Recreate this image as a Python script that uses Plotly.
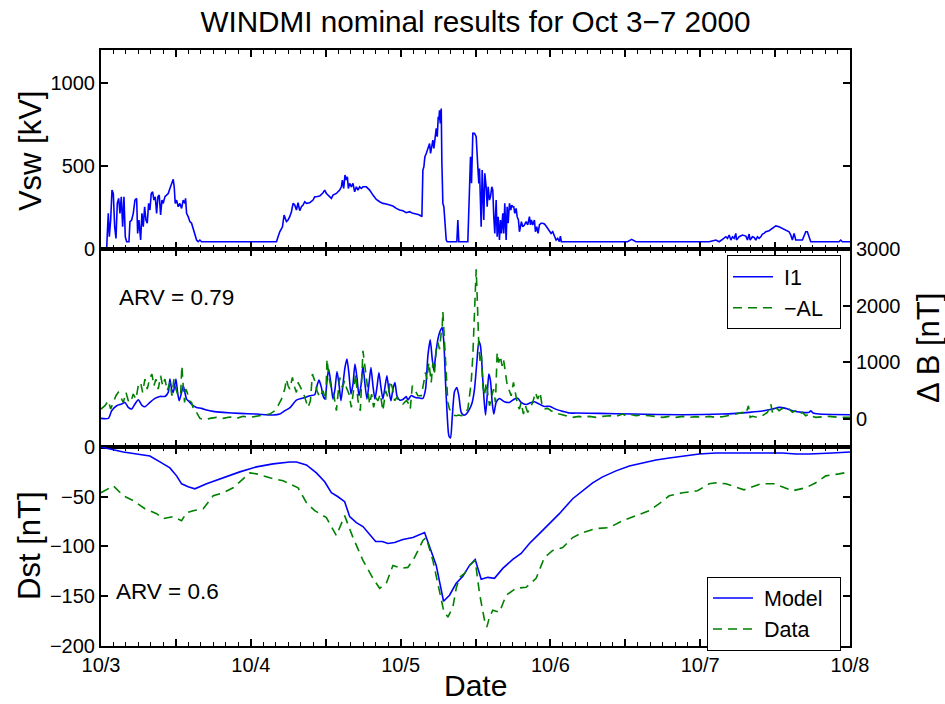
import plotly.graph_objects as go

# ---------------- data (time in hours since 10/3 00:00) ----------------
VSW = [(0,0),(0.91,0),(1.01,94),(1.17,215),(1.33,74),(1.55,175),(1.76,355),(1.97,335),(2.19,134),(2.40,64),(2.61,275),(2.83,305),(3.04,215),(3.25,315),(3.47,134),(3.68,315),(3.89,74),(4.11,44),(4.48,44),(4.64,165),(4.91,175),(5.17,215),(5.44,295),(5.71,305),(5.87,94),(6.08,175),(6.35,54),(6.56,215),(6.77,134),(6.99,255),(7.20,175),(7.41,155),(7.63,275),(7.84,235),(8.05,335),(8.27,345),(8.48,295),(8.69,315),(8.91,215),(9.12,315),(9.33,325),(9.55,205),(9.76,295),(9.97,275),(10.24,315),(10.51,325),(10.77,335),(11.04,365),(11.31,396),(11.57,420),(11.73,375),(11.89,275),(12.11,295),(12.37,255),(12.64,275),(12.91,245),(13.17,295),(13.44,275),(13.55,305),(13.71,215),(13.97,195),(14.24,165),(14.51,155),(14.77,124),(15.04,84),(15.31,54),(15.57,44),(15.84,54),(16.11,44),
       (28.11,44),(28.37,74),(28.64,104),(29.07,134),(29.33,205),(29.71,165),(29.97,175),(30.24,195),(30.51,225),(30.77,275),(31.04,265),(31.31,235),(31.57,279),(31.84,231),(32.11,255),(32.37,265),(32.64,285),(32.91,275),(33.44,279),(33.97,295),(34.24,315),(34.51,315),(35.04,319),(35.57,339),(35.84,355),(36.11,335),(36.37,325),(36.64,315),(36.91,305),(37.17,325),(37.71,335),(37.97,345),(38.24,355),(38.51,375),(38.67,416),(38.88,365),(39.09,446),(39.31,416),(39.47,436),(39.63,365),(39.84,396),(40.11,375),(40.37,396),(40.64,345),(40.91,375),(41.17,355),(41.44,375),(41.71,365),(41.97,375),(42.51,375),(43.04,355),(43.57,325),(44.11,299),(44.64,285),(45.17,275),(45.71,271),(46.24,265),(46.77,259),(47.31,245),(47.84,235),(48.37,231),(48.91,219),(49.44,225),(49.97,215),(50.51,211),(51.04,205),(51.41,195),
       (51.57,476),(51.73,496),(51.89,556),(52.11,576),(52.37,606),(52.64,636),(52.80,576),(53.01,616),(53.17,657),(53.33,606),(53.55,697),(53.71,727),(53.87,677),(54.03,797),(54.13,777),(54.24,837),(54.35,757),(54.51,847),(54.61,526),(54.77,275),(54.93,255),(55.09,134),(55.31,54),(55.47,44),(57.01,44),(57.17,175),(57.33,44),(58.77,44),
       (59.04,416),(59.20,556),(59.36,396),(59.57,697),(59.84,697),(60.11,677),(60.37,496),(60.53,396),(60.64,486),(60.91,134),(61.07,476),(61.17,355),(61.33,175),(61.49,456),(61.71,375),(61.87,255),(62.03,375),(62.24,295),(62.40,315),(62.61,375),(62.77,355),(62.93,195),(63.09,94),(63.31,295),(63.47,74),(63.63,195),(63.84,54),(64.00,175),(64.16,94),(64.37,215),(64.53,94),(64.69,275),(64.91,54),(65.07,255),(65.23,155),(65.44,275),(65.65,235),(65.81,265),(65.97,255),(66.13,255),(66.29,215),(66.51,245),(66.67,195),(66.88,175),(67.04,104),(67.20,134),(67.36,165),(67.57,134),(67.84,145),(68.11,165),(68.37,145),(68.64,195),(68.80,145),(68.96,175),(69.17,145),(69.44,175),(69.60,104),(69.81,134),(70.03,94),(70.24,145),(70.51,155),(70.77,155),(71.04,151),(71.31,139),(71.57,124),(71.84,110),(72.11,94),(72.37,104),(72.64,84),(72.91,54),(73.17,64),(73.44,44),(73.60,78),(73.76,44),
       (84.37,44),(85.01,58),(85.71,44),(97.44,44),(98.51,54),(99.04,44),(99.57,58),(100.11,74),(100.37,64),(100.64,84),(100.91,54),(101.17,74),(101.44,64),(101.71,94),(101.81,54),(102.24,74),(102.77,84),(103.31,78),(103.57,54),(103.84,90),(104.00,54),(104.37,74),(104.64,70),(104.91,54),(105.17,74),(105.44,64),(105.71,74),(105.97,90),(106.24,94),(106.51,104),(107.04,110),(107.57,124),(108.11,139),(108.64,134),(109.17,124),(109.71,110),(110.24,104),(110.51,84),(110.77,54),(111.04,94),(111.31,54),(112.37,54),(112.64,74),(112.91,104),(113.17,104),(113.44,74),(113.71,44),(118.24,44),(118.51,54),(118.77,44),(120,44)]

I1 = [(0,6),(1.17,6),(1.71,141),(2.51,230),(3.31,259),(3.84,288),(4.37,200),(4.91,171),(5.44,259),(5.97,335),(6.61,230),(7.04,212),(7.84,288),(8.64,359),(9.44,394),(10.24,394),(10.77,465),(11.04,700),(11.31,524),(11.57,465),(12.00,700),(12.27,465),(12.53,318),(12.91,465),(13.17,582),(13.44,465),(13.71,347),(13.97,318),(14.24,288),(14.77,230),(15.31,200),(16.11,183),(16.91,153),(17.97,129),(19.57,112),(22.24,94),(24.91,82),(27.57,65),(28.64,82),(29.44,141),(30.24,190),(31.31,330),(32.37,365),(33.44,406),(34.24,424),(34.61,583),(34.93,683),(35.31,553),(35.57,406),(35.89,347),(36.21,671),(36.48,877),(36.85,612),(37.17,347),(37.49,524),(37.81,835),(38.13,612),(38.45,318),(38.77,612),(39.09,906),(39.41,1053),(39.73,788),(40.05,436),(40.37,612),(40.69,965),(41.01,729),(41.33,406),(41.65,583),(41.97,935),(42.29,612),(42.61,347),(42.93,612),(43.25,906),(43.57,583),(43.89,347),(44.21,553),(44.53,817),(44.85,553),(45.17,347),(45.49,553),(45.81,759),(46.13,494),(46.45,318),(46.77,524),(47.09,641),(47.41,406),(47.84,330),(48.37,340),(48.91,390),(49.17,330),(49.71,410),(50.24,380),(51.04,365),(51.57,360),(52.0,523),(52.37,1111),(52.75,1393),(53.07,1052),(53.33,846),(53.60,1111),(53.97,1405),(54.35,1552),(54.67,1611),(54.93,1346),(55.20,641),(55.47,53),(55.73,-300),(56.0,-340),(56.27,24),(56.64,480),(57.01,552),(57.33,405),(57.71,111),(58.08,64),(58.51,82),(59.04,170),(59.47,288),(59.84,523),(60.21,993),(60.53,1370),(60.80,1287),(61.07,876),(61.33,405),(61.60,64),(61.87,405),(62.13,788),(62.40,670),(62.67,288),(62.93,82),(63.31,288),(63.84,358),(64.64,300),(65.44,288),(66.24,347),(66.77,360),(67.31,288),(68.11,250),(68.91,288),(69.44,300),(70.24,258),(71.04,217),(71.84,220),(72.91,165),(73.97,130),(75.04,100),(76.11,100),(79.84,94),(85.17,82),(93.17,70),(99.57,82),(101.71,94),(103.84,112),(105.97,135),(107.57,171),(108.64,200),(109.71,183),(110.77,141),(112.37,112),(113.44,112),(113.71,141),(114.08,100),(115.04,82),(120,70)]

MINUS_AL = [(0,171),(0.64,230),(1.17,318),(1.55,171),(1.97,288),(2.40,406),(2.77,465),(3.15,377),(3.57,288),(4.0,465),(4.37,318),(4.75,288),(5.17,435),(5.60,347),(5.97,582),(6.35,641),(6.67,465),(7.04,700),(7.41,524),(7.84,729),(8.16,788),(8.48,582),(8.80,700),(9.17,524),(9.55,759),(9.87,582),(10.24,700),(10.61,494),(11.04,641),(11.36,406),(11.68,700),(12.0,524),(12.37,406),(12.75,406),(12.96,935),(13.17,582),(13.39,288),(13.60,524),(13.81,465),(14.13,318),(14.51,288),(14.88,141),(15.31,112),(15.84,6),(16.64,-17),(17.44,6),(18.51,24),(19.57,6),(20.64,30),(21.71,6),(22.77,42),(23.84,24),(24.91,42),(25.97,53),(27.04,82),(27.84,141),(28.37,230),(28.91,347),(29.44,524),(29.71,700),(29.97,582),(30.24,524),(30.51,641),(30.67,729),(31.04,553),(31.31,465),(31.57,641),(32.11,524),(32.48,436),(33.17,200),(33.55,318),(33.87,788),(34.24,671),(34.61,494),(35.04,377),(35.57,494),(36.0,318),(36.21,1053),(36.53,729),(36.91,524),(37.28,436),(37.71,141),(37.97,436),(38.24,729),(38.67,553),(39.04,671),(39.31,553),(39.73,436),(40.11,200),(40.48,553),(40.80,788),(41.17,318),(41.55,141),(41.97,1200),(42.29,906),(42.61,671),(43.04,259),(43.36,436),(43.68,200),(44.0,377),(44.37,318),(44.75,436),(45.17,141),(45.60,494),(45.97,377),(46.35,671),(46.67,553),(47.04,318),(47.41,377),(47.84,300),(48.37,259),(48.91,318),(49.17,288),(49.55,170),(49.87,582),(50.24,523),(50.77,405),(51.31,405),(51.68,641),(52.0,817),(52.21,699),(52.53,993),(52.91,641),(53.17,993),(53.44,817),(53.71,1229),(53.97,1346),(54.24,1229),(54.51,1523),(54.67,1640),(54.77,1890),(54.93,1523),(55.15,993),(55.36,641),(55.57,288),(55.84,170),(56.16,111),(56.48,64),(56.91,53),(57.33,64),(57.71,53),(58.08,64),(58.40,111),(58.77,170),(59.04,405),(59.31,641),(59.57,1111),(59.79,1699),(59.95,2169),(60.11,2640),(60.21,2346),(60.37,1699),(60.53,1287),(60.75,993),(60.96,1111),(61.17,582),(61.44,405),(61.71,641),(61.97,405),(62.24,229),(62.51,347),(62.88,523),(63.20,288),(63.47,1170),(63.73,993),(63.95,1111),(64.27,935),(64.48,1052),(64.80,817),(65.01,641),(65.33,523),(65.71,405),(66.08,641),(66.40,464),(66.77,229),(67.04,170),(67.31,288),(67.68,82),(68.0,229),(68.37,111),(68.75,199),(69.17,288),(69.60,464),(69.97,347),(70.35,464),(70.67,229),(71.04,170),(71.57,182),(72.11,141),(72.64,111),(73.44,82),(74.51,53),(75.57,23),(76.64,41),(77.17,24),(78.24,42),(79.31,24),(80.37,42),(81.44,53),(82.51,42),(83.57,82),(84.11,53),(84.64,82),(85.71,53),(86.77,65),(87.84,53),(88.91,42),(89.97,24),(91.04,42),(92.11,24),(93.17,42),(94.24,24),(95.31,36),(96.37,24),(97.44,42),(98.51,24),(99.57,36),(100.64,53),(101.71,82),(102.77,112),(103.31,82),(103.73,229),(104.0,24),(104.37,42),(105.17,24),(105.97,53),(106.77,112),(107.31,259),(107.57,112),(108.11,200),(108.64,141),(109.17,183),(109.71,159),(110.24,171),(110.77,112),(111.31,141),(111.84,82),(112.37,112),(112.91,53),(113.44,82),(113.97,42),(114.51,24),(116.64,42),(118.24,24),(120,24)]

DST_MODEL = [(0,0),(1.44,-2),(3.57,-5),(5.71,-7),(7.84,-9),(9.44,-15),(11.04,-21),(12.11,-29),(12.91,-37),(13.97,-40),(15.04,-42),(16.91,-37),(19.57,-31),(22.24,-25),(24.91,-20),(27.57,-17),(30.24,-15),(31.31,-15),(32.91,-18),(34.51,-26),(35.84,-35),(36.91,-46),(37.97,-50),(39.04,-55),(39.84,-70),(40.91,-76),(41.97,-80),(43.04,-88),(44.00,-95),(45.07,-95),(45.97,-97),(47.04,-96),(48.37,-93),(49.97,-91),(51.84,-86),(53.71,-119),(54.88,-155),(55.84,-149),(56.91,-137),(57.97,-130),(59.04,-119),(59.95,-113),(60.91,-133),(61.97,-131),(63.04,-132),(64.37,-122),(65.97,-113),(67.31,-107),(68.64,-97),(70.24,-87),(71.84,-77),(73.44,-67),(75.57,-52),(77.17,-44),(78.77,-36),(80.37,-30),(82.51,-24),(84.64,-19),(86.77,-16),(88.91,-13),(91.04,-11),(93.17,-9),(95.84,-7),(98.51,-6),(101.17,-6),(103.84,-6),(106.51,-6),(109.17,-6),(111.31,-7),(113.44,-7),(117.17,-6),(120,-5)]

DST_DATA = [(0,-46),(1.97,-39),(3.57,-49),(5.17,-54),(7.04,-62),(8.91,-67),(9.97,-72),(11.57,-70),(12.91,-74),(13.71,-66),(14.77,-64),(16.37,-62),(17.97,-49),(19.57,-46),(21.17,-41),(22.77,-32),(23.84,-26),(24.91,-27),(27.04,-31),(29.17,-34),(31.57,-41),(32.91,-56),(34.24,-64),(36.11,-71),(37.71,-89),(39.04,-69),(40.37,-91),(41.97,-114),(43.57,-132),(44.64,-142),(45.71,-137),(46.77,-119),(48.11,-122),(49.17,-121),(50.24,-111),(51.57,-94),(52.11,-91),(53.17,-114),(54.13,-144),(54.88,-164),(55.57,-171),(56.37,-161),(56.91,-142),(57.44,-131),(58.24,-127),(59.04,-119),(59.95,-114),(60.64,-147),(61.44,-174),(61.81,-181),(62.24,-171),(62.77,-164),(63.84,-166),(64.91,-149),(66.51,-142),(68.11,-141),(69.71,-132),(71.04,-111),(72.37,-104),(73.97,-101),(75.57,-91),(77.17,-86),(79.31,-82),(81.44,-81),(83.57,-74),(85.71,-69),(87.84,-64),(89.44,-57),(91.04,-49),(93.17,-46),(95.57,-44),(97.44,-37),(98.51,-36),(100.11,-37),(103.04,-43),(105.71,-37),(107.84,-37),(110.77,-44),(112.91,-41),(114.51,-36),(116.11,-29),(118.24,-27),(120,-25)]

DAY_LABELS = ["10/3", "10/4", "10/5", "10/6", "10/7", "10/8"]
ARV_AL = "ARV = 0.79"
ARV_DST = "ARV = 0.6"

# ---------------- figure ----------------
FONT = "Liberation Sans, Arial, Helvetica, sans-serif"
BLUE = "#0000FF"
GREEN = "#008000"
DASH = "9px,6px"
LPAD = "\u00a0"
RPAD = "\u00a0\u00a0"

def xy(pairs):
    return [p[0] for p in pairs], [p[1] for p in pairs]

fig = go.Figure()
x, y = xy(VSW)
fig.add_trace(go.Scatter(x=x, y=y, mode="lines", line=dict(color=BLUE, width=1.6),
                         xaxis="x", yaxis="y", showlegend=False))
x, y = xy(I1)
fig.add_trace(go.Scatter(x=x, y=y, mode="lines", name=LPAD + "I1", line=dict(color=BLUE, width=1.6, shape="spline", smoothing=0.6),
                         xaxis="x2", yaxis="y2", legend="legend"))
x, y = xy(MINUS_AL)
fig.add_trace(go.Scatter(x=x, y=y, mode="lines", name=LPAD + "\u2212AL" + RPAD, line=dict(color=GREEN, width=1.6, dash=DASH),
                         xaxis="x2", yaxis="y2", legend="legend"))
x, y = xy(DST_MODEL)
fig.add_trace(go.Scatter(x=x, y=y, mode="lines", name=LPAD + "Model" + RPAD, line=dict(color=BLUE, width=1.6),
                         xaxis="x3", yaxis="y3", legend="legend2"))
x, y = xy(DST_DATA)
fig.add_trace(go.Scatter(x=x, y=y, mode="lines", name=LPAD + "Data", line=dict(color=GREEN, width=1.6, dash=DASH),
                         xaxis="x3", yaxis="y3", legend="legend2"))

major = list(range(0, 121, 12))
major_txt = [DAY_LABELS[h // 24] if h % 24 == 0 else "" for h in major]
minor = [h for h in range(0, 121, 2) if h % 12 != 0]

TICKFONT = dict(family=FONT, size=20, color="black")

def xax(show_labels):
    return dict(range=[0, 120], tickmode="array", tickvals=major, ticktext=major_txt,
                showticklabels=show_labels, ticks="inside", ticklen=7, tickwidth=1.5,
                tickcolor="black", showline=True, linecolor="black", linewidth=2,
                mirror="allticks", showgrid=False, zeroline=False, tickfont=TICKFONT,
                minor=dict(tickvals=minor, ticks="inside", ticklen=4, tickwidth=1.2,
                           tickcolor="black", showgrid=False))

D1 = [0.0, 0.3339]
D2 = [0.3339, 0.6661]
D3 = [0.6661, 1.0]

LEGFONT = dict(family=FONT, size=21.5, color="black")

fig.update_layout(
    width=945, height=704,
    margin=dict(l=101, r=95, t=50, b=58),
    paper_bgcolor="white", plot_bgcolor="white",
    font=dict(family=FONT, color="black"),
    xaxis=dict(**xax(False), anchor="y"),
    xaxis2=dict(**xax(False), anchor="y2", matches="x"),
    xaxis3=dict(**xax(True), anchor="y3", matches="x"),
    yaxis=dict(domain=D3, range=[0, 1200], tickvals=[0, 500, 1000], ticks="inside", ticklen=7,
               tickwidth=1.5, tickcolor="black", showline=True, linecolor="black", linewidth=2,
               mirror="allticks", showgrid=False, zeroline=False, tickfont=TICKFONT, anchor="x"),
    yaxis2=dict(domain=D2, range=[-500, 3000], tickvals=[0, 1000, 2000, 3000], side="right",
                ticks="inside", ticklen=7, tickwidth=1.5, tickcolor="black", showline=True,
                linecolor="black", linewidth=2, mirror=True, showgrid=False, zeroline=False,
                tickfont=TICKFONT, anchor="x2"),
    yaxis4=dict(range=[-500, 3000], tickvals=[1000, 2000], overlaying="y2", side="left",
                ticks="inside", ticklen=7, tickwidth=1.5, tickcolor="black", showline=False,
                showticklabels=False, showgrid=False, zeroline=False, anchor="x2"),
    yaxis3=dict(domain=D1, range=[-200, 0], tickvals=[-200, -150, -100, -50, 0], ticks="inside",
                ticklen=7, tickwidth=1.5, tickcolor="black", showline=True, linecolor="black",
                linewidth=2, mirror="allticks", showgrid=False, zeroline=False, tickfont=TICKFONT,
                anchor="x3"),
    legend=dict(x=0.988, y=0.6555, xanchor="right", yanchor="top", bgcolor="white",
                bordercolor="black", borderwidth=1, font=LEGFONT, itemwidth=40,
                tracegroupgap=0),
    legend2=dict(x=0.988, y=0.1165, xanchor="right", yanchor="top", bgcolor="white",
                 bordercolor="black", borderwidth=1, font=LEGFONT, itemwidth=40,
                 tracegroupgap=0),
    title=dict(text="WINDMI nominal results for Oct 3\u22127 2000", x=0.5, xref="paper",
               y=1 - 22 / 704, yref="container", yanchor="middle", xanchor="center",
               font=dict(family=FONT, size=29.7, color="black")),
)

def ann(text, x, y, xref, yref, size, angle=0, xanchor="center"):
    fig.add_annotation(text=text, x=x, y=y, xref=xref, yref=yref, showarrow=False,
                       textangle=angle, xanchor=xanchor, yanchor="middle",
                       font=dict(family=FONT, size=size, color="black"))

ann(ARV_AL, 2.6, 2134, "x2", "y2", 22.5, xanchor="left")
ann(ARV_DST, 2.1, -145, "x3", "y3", 22.5, xanchor="left")
ann("Vsw [kV]", -0.0948, 0.832, "paper", "paper", 31, angle=-90)
ann("Dst [nT]", -0.0948, 0.1695, "paper", "paper", 31, angle=-90)
ann("\u0394 B [nT]", 1.1041, 0.5, "paper", "paper", 31, angle=-90)
ann("Date", 0.5, (646 - 686) / 596, "paper", "paper", 30)

fig.write_html("out.html")
